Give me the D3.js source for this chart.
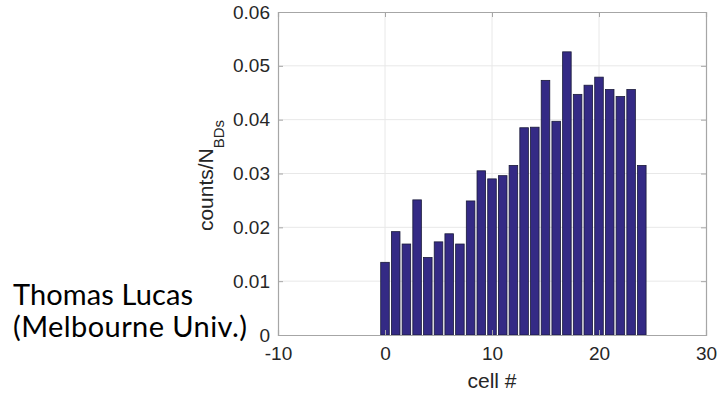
<!DOCTYPE html>
<html>
<head>
<meta charset="utf-8">
<script src="https://cdn.jsdelivr.net/npm/d3@7"></script>
<style>
  html, body { margin: 0; padding: 0; background: #fff; }
  svg { display: block; }
</style>
</head>
<body>
<svg id="chart" width="717" height="395"></svg>
<script>
// Fraction of BD events per cell
const cells = d3.range(0, 25);
const fractions = [
  0.0135, 0.0192, 0.0169, 0.0251, 0.0144, 0.0173, 0.0188, 0.0169, 0.0249,
  0.0305, 0.0290, 0.0296, 0.0315, 0.0385, 0.0386, 0.0473, 0.0397, 0.0526,
  0.0447, 0.0464, 0.0479, 0.0456, 0.0443, 0.0456, 0.0315
];
const xTicks = [-10, 0, 10, 20, 30];
const yTicks = [0, 0.01, 0.02, 0.03, 0.04, 0.05, 0.06];
const yTickLabels = ["0", "0.01", "0.02", "0.03", "0.04", "0.05", "0.06"];
const authorLines = ["Thomas Lucas", "(Melbourne Univ.)"];

const svg = d3.select("#chart");
const plot = { left: 278, right: 706, top: 12, bottom: 335 };

const x = d3.scaleLinear().domain([-10, 30]).range([plot.left, plot.right]);
const y = d3.scaleLinear().domain([0, 0.06]).range([plot.bottom, plot.top]);
const barWidth = 0.8;

const axisColor = "#a6a6a6";
const textColor = "#262626";
const font = "'Liberation Sans', Arial, Helvetica, sans-serif";
const fontSize = 19;

// grid
const grid = svg.append("g");
grid.selectAll("line.gx").data(xTicks.slice(1, -1)).join("line")
  .attr("x1", d => x(d)).attr("x2", d => x(d))
  .attr("y1", plot.top).attr("y2", plot.bottom)
  .attr("stroke", "#e8e8e8").attr("stroke-width", 1);
grid.selectAll("line.gy").data(yTicks.slice(1, -1)).join("line")
  .attr("y1", d => y(d)).attr("y2", d => y(d))
  .attr("x1", plot.left).attr("x2", plot.right)
  .attr("stroke", "#e8e8e8").attr("stroke-width", 1);

// bars
svg.append("g").selectAll("rect").data(cells).join("rect")
  .attr("x", d => x(d - barWidth / 2))
  .attr("width", x(barWidth) - x(0))
  .attr("y", (d, i) => y(fractions[i]))
  .attr("height", (d, i) => y(0) - y(fractions[i]))
  .attr("fill", "#342a85")
  .attr("stroke", "#1a1a3a")
  .attr("stroke-width", 0.8);

// axes (box with inward ticks)
const xAxisB = d3.axisBottom(x).tickValues(xTicks).tickSize(-5).tickFormat(d => d).tickPadding(12);
const xAxisT = d3.axisTop(x).tickValues(xTicks).tickSize(-5).tickFormat("");
const yAxisL = d3.axisLeft(y).tickValues(yTicks).tickSize(-5).tickFormat((d, i) => yTickLabels[i]).tickPadding(8);
const yAxisR = d3.axisRight(y).tickValues(yTicks).tickSize(-5).tickFormat("");

function style(g) {
  g.select(".domain").attr("stroke", axisColor).attr("stroke-width", 1.2);
  g.selectAll(".tick line").attr("stroke", axisColor);
  g.selectAll(".tick text").attr("fill", textColor).attr("font-size", fontSize).attr("font-family", font);
}
svg.append("g").attr("transform", `translate(0,${plot.bottom})`).call(xAxisB).call(style);
svg.append("g").attr("transform", `translate(0,${plot.top})`).call(xAxisT).call(style);
svg.append("g").attr("transform", `translate(${plot.left},0)`).call(yAxisL).call(style);
svg.append("g").attr("transform", `translate(${plot.right},0)`).call(yAxisR).call(style);

// axis titles
svg.append("text")
  .attr("x", x(10)).attr("y", 388)
  .attr("text-anchor", "middle")
  .attr("font-family", font).attr("font-size", 21).attr("fill", textColor)
  .text("cell #");

const yTitle = svg.append("text")
  .attr("transform", `translate(213,${(plot.top + plot.bottom) / 2 + 2}) rotate(-90)`)
  .attr("text-anchor", "middle")
  .attr("font-family", font).attr("font-size", 21).attr("fill", textColor);
yTitle.append("tspan").text("counts/N");
yTitle.append("tspan").attr("dy", 11).attr("font-size", 15).text("BDs");

// author note
const lineWidths = [180, 234];
svg.append("g").selectAll("text").data(authorLines).join("text")
  .attr("x", 13).attr("y", (d, i) => 305 + i * 32)
  .attr("font-family", "Lato, 'Open Sans', sans-serif")
  .attr("font-size", 29)
  .attr("fill", "#000")
  .attr("textLength", (d, i) => lineWidths[i])
  .attr("lengthAdjust", "spacing")
  .text(d => d);
</script>
</body>
</html>
